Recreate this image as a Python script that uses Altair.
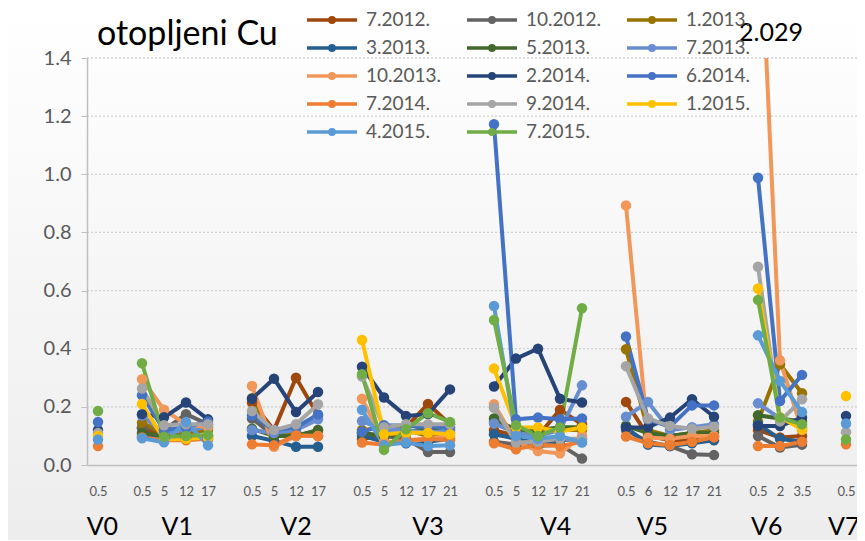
import json
import altair as alt
import pandas as pd

N = None

# category axis: sample positions per site, "" = empty separator category
cat_labels = ["0.5", "",
              "0.5", "5", "12", "17", "",
              "0.5", "5", "12", "17", "",
              "0.5", "5", "12", "17", "21", "",
              "0.5", "5", "12", "17", "21", "",
              "0.5", "6", "12", "17", "21", "",
              "0.5", "2", "3.5", "",
              "0.5"]
group_names = ["V0", "V1", "V2", "V3", "V4", "V5", "V6", "V7"]
group_label_pos = [0.2, 3.6, 9.0, 15.0, 20.8, 25.2, 30.4, 33.9]

series_names = ["7.2012.", "10.2012.", "1.2013.", "3.2013.", "5.2013.", "7.2013.",
                "10.2013.", "2.2014.", "6.2014.", "7.2014.", "9.2014.", "1.2015.",
                "4.2015.", "7.2015."]
series_colors = ["#9E480E", "#636363", "#997300", "#255E91", "#43682B", "#698ED0",
                 "#F1975A", "#264478", "#4472C4", "#ED7D31", "#A5A5A5", "#FFC000",
                 "#5B9BD5", "#70AD47"]

s_2012_07 = [N, N, 0.126, 0.10, 0.095, 0.10, N, 0.215, 0.12, 0.30, 0.17, N, 0.09, 0.10, 0.13, 0.21, 0.14, N,
             0.12, 0.10, 0.10, 0.19, 0.14, N, 0.217, 0.10, 0.085, 0.085, 0.10, N, 0.12, 0.095, 0.10, N, N]
s_2012_10 = [N, N, 0.13, 0.12, 0.175, 0.14, N, 0.16, 0.10, 0.10, 0.12, N, 0.11, 0.10, 0.09, 0.045, 0.045, N,
             0.08, 0.07, 0.065, 0.07, 0.022, N, 0.12, 0.08, 0.065, 0.037, 0.034, N, 0.10, 0.06, 0.07, N, N]
s_2013_01 = [N, N, 0.145, 0.11, 0.11, 0.12, N, 0.23, 0.10, 0.11, 0.10, N, 0.12, 0.13, 0.12, 0.10, 0.11, N,
             0.15, 0.11, 0.12, 0.12, 0.12, N, 0.398, 0.12, 0.10, 0.11, 0.12, N, 0.15, 0.346, 0.247, N, N]
s_2013_03 = [N, N, 0.10, 0.09, 0.09, 0.09, N, 0.10, 0.083, 0.063, 0.063, N, 0.10, 0.08, 0.075, 0.08, 0.09, N,
             0.106, 0.09, 0.075, 0.085, 0.09, N, 0.13, 0.07, 0.065, 0.075, 0.085, N, 0.14, 0.09, 0.08, N, N]
s_2013_05 = [N, N, 0.11, 0.10, 0.10, 0.10, N, 0.125, 0.10, 0.10, 0.12, N, 0.11, 0.10, 0.11, 0.13, 0.12, N,
             0.16, 0.12, 0.12, 0.13, 0.13, N, 0.135, 0.11, 0.10, 0.11, 0.11, N, 0.171, 0.16, 0.15, N, N]
s_2013_07 = [N, N, 0.17, 0.11, 0.12, 0.13, N, 0.12, 0.11, 0.12, 0.157, N, 0.151, 0.12, 0.12, 0.11, 0.12, N,
             0.143, 0.11, 0.10, 0.12, 0.274, N, 0.166, 0.217, 0.12, 0.13, 0.14, N, 0.212, 0.16, 0.13, N, N]
s_2013_10 = [N, N, 0.295, 0.19, 0.14, 0.13, N, 0.272, 0.063, 0.10, 0.10, N, 0.228, 0.08, 0.08, 0.09, 0.10, N,
             0.209, 0.08, 0.048, 0.04, 0.10, N, 0.893, 0.095, 0.09, 0.10, 0.10, N, 2.029, 0.36, 0.12, N, N]
s_2014_02 = [0.12, N, 0.175, 0.164, 0.215, 0.157, N, 0.228, 0.297, 0.182, 0.251, N, 0.338, 0.232, 0.169, 0.175, 0.26, N,
             0.27, 0.366, 0.40, 0.228, 0.215, N, 0.129, 0.13, 0.163, 0.226, 0.166, N, 0.134, 0.134, 0.163, N, 0.169]
s_2014_06 = [0.148, N, 0.24, 0.12, 0.13, 0.15, N, 0.17, 0.12, 0.13, 0.174, N, 0.114, 0.137, 0.135, 0.13, 0.13, N,
             1.172, 0.157, 0.163, 0.157, 0.16, N, 0.442, 0.157, 0.132, 0.205, 0.205, N, 0.988, 0.22, 0.31, N, N]
s_2014_07 = [0.065, N, 0.095, 0.085, 0.085, 0.09, N, 0.071, 0.068, 0.102, 0.10, N, 0.077, 0.07, 0.085, 0.09, 0.085, N,
             0.075, 0.054, 0.07, 0.065, 0.08, N, 0.098, 0.075, 0.068, 0.08, 0.095, N, 0.065, 0.065, 0.08, N, 0.071]
s_2014_09 = [0.11, N, 0.263, 0.137, 0.14, 0.14, N, 0.186, 0.12, 0.14, 0.209, N, 0.304, 0.13, 0.14, 0.14, 0.14, N,
             0.197, 0.077, 0.08, 0.09, 0.09, N, 0.34, 0.16, 0.134, 0.125, 0.132, N, 0.682, 0.15, 0.226, N, 0.113]
s_2015_01 = [0.10, N, 0.21, 0.088, 0.09, 0.095, N, N, N, N, N, N, 0.43, 0.106, 0.111, 0.111, 0.106, N,
             0.332, 0.13, 0.129, 0.115, 0.129, N, N, N, N, N, N, N, 0.607, 0.164, 0.123, N, 0.237]
s_2015_04 = [0.088, N, 0.092, 0.078, 0.148, 0.068, N, N, N, N, N, N, 0.19, 0.068, 0.077, 0.065, 0.068, N,
             0.547, 0.10, 0.09, 0.10, 0.077, N, N, N, N, N, N, N, 0.446, 0.289, 0.182, N, 0.143]
s_2015_07 = [0.186, N, 0.35, 0.097, 0.10, 0.103, N, N, N, N, N, N, 0.312, 0.052, 0.123, 0.178, 0.148, N,
             0.499, 0.137, 0.10, 0.129, 0.539, N, N, N, N, N, N, N, 0.568, 0.163, 0.14, N, 0.088]

series_values = [s_2012_07, s_2012_10, s_2013_01, s_2013_03, s_2013_05, s_2013_07, s_2013_10,
                 s_2014_02, s_2014_06, s_2014_07, s_2014_09, s_2015_01, s_2015_04, s_2015_07]

y_ticks = [0.0, 0.2, 0.4, 0.6, 0.8, 1.0, 1.2, 1.4]
y_max = 1.4
chart_title = "otopljeni Cu"

# ---- build tables ----
group_of = []
g = 0
for lab in cat_labels:
    group_of.append(g)
    if lab == "":
        g += 1

rows = []
for name, vals in zip(series_names, series_values):
    for i, v in enumerate(vals):
        if v is not None:
            rows.append({"series": name, "idx": i, "value": v, "seg": f"{name}|{group_of[i]}"})
df = pd.DataFrame(rows)

df_groups = pd.DataFrame({"name": group_names, "pos": group_label_pos})
df_grid = pd.DataFrame({"value": y_ticks[1:]})

peak_val = max(v for v in s_2013_10 if v is not None)
df_peak = pd.DataFrame({"idx": [s_2013_10.index(peak_val)], "label": [f"{peak_val:.3f}"]})

W, H = 770, 407
FONT = "Lato"

x_scale = alt.Scale(domain=[-0.5, len(cat_labels) - 0.5], nice=False, zero=False)
y_scale = alt.Scale(domain=[0, y_max], nice=False, zero=True)

x_axis = alt.Axis(values=[i for i, l in enumerate(cat_labels) if l],
                  labelExpr=f"{json.dumps(cat_labels)}[datum.value]",
                  ticks=False, grid=False, domainColor="#BFBFBF", domainWidth=1.5,
                  labelPadding=20, labelFontSize=13, labelColor="#595959", labelFont=FONT,
                  labelOverlap=False, labelFlush=False, labelBound=False, title=None, zindex=1)
y_axis = alt.Axis(values=y_ticks, format=".1f", grid=False, tickColor="#BFBFBF", tickSize=6,
                  domainColor="#BFBFBF", domainWidth=1.5, labelFontSize=20, labelColor="#595959",
                  labelFont=FONT, labelPadding=10, title=None, zindex=1)

X = lambda f: alt.X(f, scale=x_scale, axis=x_axis)
Y = lambda f: alt.Y(f, scale=y_scale, axis=y_axis)

sym_path = ("M-2.5,0L2.5,0M-0.22,0A0.22,0.22,0,1,0,0.22,0A0.22,0.22,0,1,0,-0.22,0Z")
leg = alt.Legend(orient="none", legendX=233, legendY=-50, columns=3, direction="horizontal",
                 title=None, symbolType=sym_path, symbolSize=400, symbolStrokeWidth=3.5,
                 labelFont=FONT, labelFontSize=19, labelColor="#595959", labelOffset=22,
                 columnPadding=18, rowPadding=6, padding=0, labelLimit=300)
color_scale = alt.Scale(domain=series_names, range=series_colors)

bg = alt.Chart(pd.DataFrame({"a": [0]})).mark_rect(
    color=alt.Gradient(gradient="linear", x1=0, x2=0, y1=0, y2=1,
                       stops=[alt.GradientStop(offset=0, color="#FFFFFF"),
                              alt.GradientStop(offset=1, color="#EDEDED")])
).encode(x=alt.value(-79), x2=alt.value(W), y=alt.value(-50), y2=alt.value(H + 75))

grid = alt.Chart(df_grid).mark_rule(color="#D0D0D0", strokeDash=[2, 2], strokeWidth=1.3).encode(
    y=Y("value:Q"))

lines = alt.Chart(df).mark_line(strokeWidth=4, clip=True).encode(
    x=X("idx:Q"),
    y=Y("value:Q"),
    stroke=alt.Stroke("series:N", scale=color_scale, legend=leg),
    detail="seg:N",
    order="idx:Q",
)
points = alt.Chart(df).mark_circle(size=110, opacity=1, clip=True).encode(
    x=X("idx:Q"),
    y=Y("value:Q"),
    fill=alt.Fill("series:N", scale=color_scale, legend=leg),
)
group_text = alt.Chart(df_groups).mark_text(font=FONT, fontSize=25, color="#000000",
                                             align="center", baseline="alphabetic").encode(
    x=X("pos:Q"), y=alt.value(H + 70), text="name:N")
peak_text = alt.Chart(df_peak).mark_text(font=FONT, fontSize=25, color="#000000",
                                          align="center", baseline="middle", dx=13).encode(
    x=X("idx:Q"), y=alt.value(-25), text="label:N")
title_text = alt.Chart(pd.DataFrame({"t": [chart_title]})).mark_text(
    font=FONT, fontSize=34, color="#000000", align="left", baseline="alphabetic").encode(
    x=alt.value(10), y=alt.value(-13), text="t:N")

chart = alt.layer(bg, grid, lines, points, group_text, peak_text, title_text).properties(
    width=W, height=H,
    padding={"left": 79, "top": 50, "right": 0, "bottom": 75},
    autosize=alt.AutoSizeParams(type="none"),
).configure_view(stroke=None)

chart.save("out.html", embed_options={"renderer": "svg", "actions": False})
